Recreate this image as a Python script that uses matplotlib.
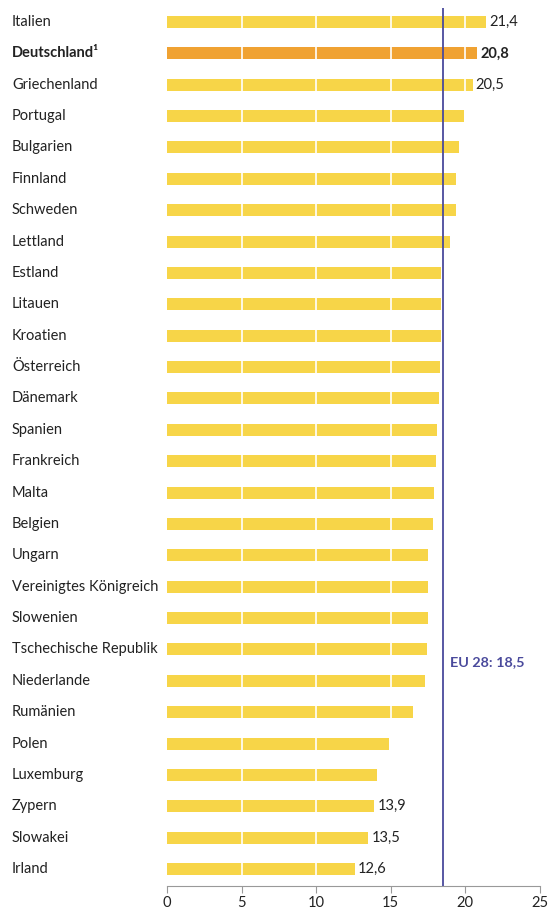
import matplotlib.pyplot as plt
import matplotlib.transforms as mtransforms
import numpy as np

countries = ['Italien', 'Deutschland', 'Griechenland', 'Portugal', 'Bulgarien',
             'Finnland', 'Schweden', 'Lettland', 'Estland', 'Litauen', 'Kroatien',
             'Österreich', 'Dänemark', 'Spanien', 'Frankreich', 'Malta', 'Belgien',
             'Ungarn', 'Vereinigtes Königreich', 'Slowenien', 'Tschechische Republik',
             'Niederlande', 'Rumänien', 'Polen', 'Luxemburg', 'Zypern', 'Slowakei', 'Irland']
values = [21.4, 20.8, 20.5, 19.9, 19.6, 19.4, 19.4, 19.0, 18.4, 18.4, 18.4,
          18.3, 18.2, 18.1, 18.0, 17.9, 17.8, 17.5, 17.5, 17.5, 17.4,
          17.3, 16.5, 14.9, 14.1, 13.9, 13.5, 12.6]
labelled = ['Italien', 'Deutschland', 'Griechenland', 'Zypern', 'Slowakei', 'Irland']
highlight = 'Deutschland'
eu_avg = 18.5
xticks = [0, 5, 10, 15, 20, 25]

plt.rcParams['font.family'] = ['Lato', 'DejaVu Sans']

yellow = '#F7D548'
orange = '#F0A232'
navy = '#4A4A9C'
textc = '#222222'

fig = plt.figure(figsize=(5.49, 9.10), dpi=100)
ax = fig.add_axes([0.304, 0.0264, 0.6796, 0.965])

y = np.arange(len(countries))
colors = [orange if c == highlight else yellow for c in countries]
ax.barh(y, values, height=0.38, color=colors, zorder=1)

# white separators over the bars
for t in xticks[1:-1]:
    ax.axvline(t, color='white', lw=1.2, zorder=2)

ax.axvline(eu_avg, color=navy, lw=1.3, zorder=3)
ax.text(eu_avg + 0.5, 20.4, 'EU 28: 18,5', color=navy, fontsize=10.4,
        fontweight='bold', va='center', ha='left')

# country names at the left edge of the figure
trans = mtransforms.blended_transform_factory(fig.transFigure, ax.transData)
for i, (c, v) in enumerate(zip(countries, values)):
    bold = 'bold' if c == highlight else 'normal'
    name = c + '\u00b9' if c == highlight else c
    ax.text(12 / 549, i, name, transform=trans, ha='left', va='center',
            fontsize=10.5, fontweight=bold, color=textc)
    if c in labelled:
        ax.text(v + 0.2, i, f'{v:.1f}'.replace('.', ','), ha='left', va='center',
                fontsize=10.5, fontweight=bold, color=textc)

ax.set_xlim(0, 25)
ax.set_ylim(len(countries) - 1 + 0.54, -0.45)
ax.set_xticks(xticks)
ax.set_xticklabels([str(t) for t in xticks], fontsize=10.6, color=textc)
ax.set_yticks([])
for s in ['left', 'right', 'top']:
    ax.spines[s].set_visible(False)
ax.spines['bottom'].set_color('#999999')
ax.tick_params(axis='x', length=5, color='#999999', pad=2)

fig.savefig('out.png', dpi=100)
